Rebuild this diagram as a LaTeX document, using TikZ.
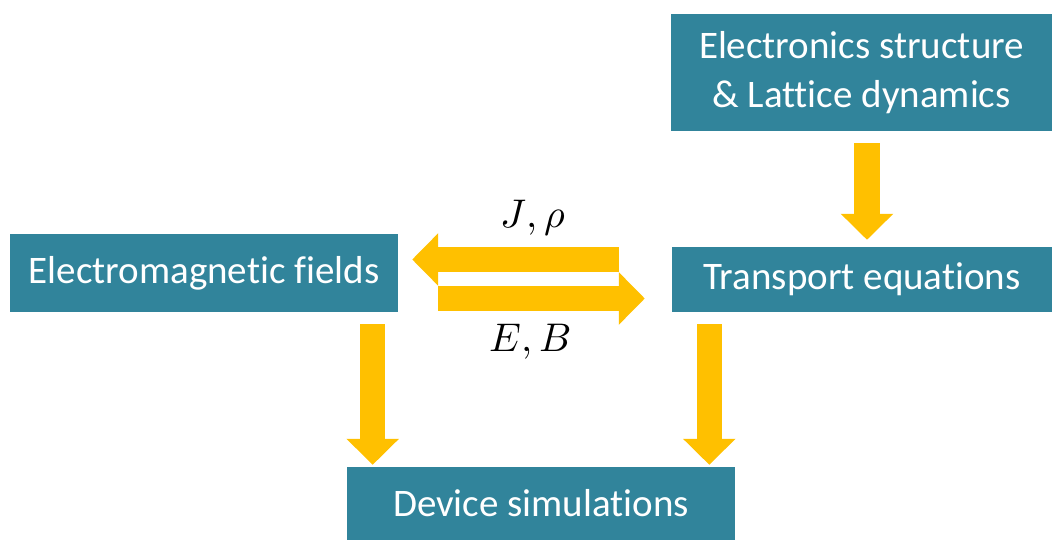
\documentclass[tikz,border=0pt]{standalone}
\usepackage{unicode-math}
\setmainfont{Carlito}[Ligatures=NoCommon]
\setmathfont{Latin Modern Math}
\usetikzlibrary{arrows.meta}
\definecolor{boxteal}{HTML}{31849B}
\definecolor{arrowgold}{HTML}{FFC000}
\tikzset{
  block/.style={fill=boxteal,text=white,inner sep=0pt,align=center,
    font=\fontsize{39}{49}\selectfont},
  bigarrow/.style={draw=arrowgold,line width=25.5pt,
    -{Triangle[length=26pt,width=51pt]}},
  lbl/.style={font=\fontsize{40}{42}\selectfont}
}
\begin{document}
\begin{tikzpicture}[x=1pt,y=-1pt]
\useasboundingbox (0,0) rectangle (1052,540);
\node[block,minimum width=381pt,minimum height=117pt] (es) at (861.5,73) {Electronics structure\\\& Lattice dynamics};
\node[block,minimum width=380pt,minimum height=65pt] (te) at (862,279.5) {Transport equations};
\node[block,minimum width=388pt,minimum height=78pt] (em) at (204,273) {Electromagnetic fields};
\node[block,minimum width=388pt,minimum height=73pt] (ds) at (541,503.5) {Device simulations};
% arrows
\draw[bigarrow] ([xshift=5.5pt,yshift=-11.5pt]es.south) -- ([xshift=5pt,yshift=7pt]te.north);
\draw[bigarrow] ([xshift=-53pt,yshift=20pt]te.west) -- ([xshift=14pt,yshift=13.5pt]em.east);
\draw[bigarrow] ([xshift=40pt,yshift=-25.5pt]em.east) -- ([xshift=-27pt,yshift=-19pt]te.west);
\draw[bigarrow] ([xshift=-25.5pt,yshift=-12pt]em.south east) -- ([xshift=-25.5pt,yshift=2pt]em.south east |- ds.north);
\draw[bigarrow] ([xshift=37.5pt,yshift=-12pt]te.south west) -- ([xshift=37.5pt,yshift=2pt]te.south west |- ds.north);
\node[lbl] (jr) at (533,218) {$J,\rho$};
\node[lbl] (eb) at (530,342) {$E,B$};
\end{tikzpicture}
\end{document}
